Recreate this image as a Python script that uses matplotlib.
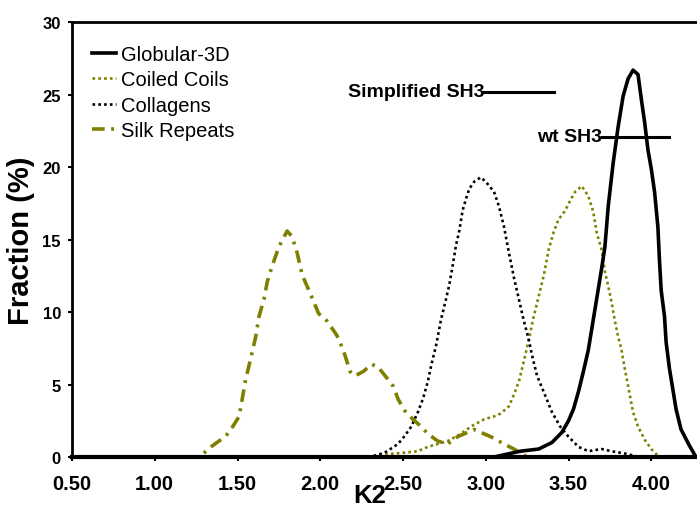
import matplotlib
matplotlib.use('Agg')
import matplotlib.pyplot as plt
from matplotlib.ticker import FormatStrFormatter

plt.rcParams['font.family'] = ['Liberation Sans', 'DejaVu Sans']

OLIVE = '#808000'

# K2 distributions
globular_x = [0.5, 3.05, 3.21, 3.32, 3.40, 3.46, 3.50, 3.53, 3.56, 3.59, 3.62, 3.64, 3.66, 3.68,
              3.70, 3.72, 3.74, 3.77, 3.80, 3.83, 3.86, 3.89, 3.92, 3.94, 3.96, 3.98, 4.00,
              4.02, 4.04, 4.05, 4.06, 4.08, 4.09, 4.11, 4.13, 4.15, 4.18, 4.23, 4.27, 4.5]
globular_y = [0, 0, 0.4, 0.55, 1.0, 1.7, 2.5, 3.3, 4.5, 5.9, 7.4, 8.8, 10.2, 11.6,
              13.0, 14.5, 17.3, 20.3, 22.8, 24.9, 26.1, 26.7, 26.4, 24.7, 23.1, 21.2, 19.9,
              18.3, 15.9, 13.5, 11.5, 9.7, 7.9, 6.1, 4.7, 3.3, 1.9, 0.8, 0, 0]

coiled_x = [0.5, 2.33, 2.41, 2.51, 2.59, 2.65, 2.71, 2.77, 2.85, 2.91, 2.99, 3.05, 3.09, 3.14,
            3.17, 3.20, 3.23, 3.26, 3.29, 3.32, 3.35, 3.38, 3.41, 3.44, 3.48, 3.51, 3.54,
            3.58, 3.62, 3.65, 3.67, 3.70, 3.72, 3.74, 3.76, 3.78, 3.80, 3.82, 3.84, 3.87,
            3.89, 3.92, 3.96, 4.00, 4.03, 4.06, 4.5]
coiled_y = [0, 0, 0.2, 0.3, 0.4, 0.7, 0.9, 1.1, 1.6, 2.1, 2.6, 2.8, 3.0, 3.5,
            4.3, 5.2, 6.6, 8.1, 9.7, 11.1, 12.5, 14.3, 15.5, 16.4, 17.0, 17.7, 18.3,
            18.7, 18.0, 16.9, 15.5, 14.3, 12.8, 11.8, 10.7, 9.4, 8.3, 7.4, 6.1, 4.3,
            3.1, 2.1, 1.2, 0.55, 0.2, 0, 0]

collagen_x = [0.5, 2.30, 2.39, 2.47, 2.51, 2.55, 2.59, 2.62, 2.65, 2.67, 2.70, 2.73, 2.76,
              2.78, 2.80, 2.82, 2.84, 2.86, 2.88, 2.90, 2.93, 2.97, 3.00, 3.05, 3.08, 3.11,
              3.14, 3.17, 3.20, 3.23, 3.26, 3.28, 3.31, 3.35, 3.40, 3.45, 3.50, 3.56, 3.62,
              3.70, 3.76, 3.86, 3.92, 4.5]
collagen_y = [0, 0, 0.3, 0.9, 1.45, 2.1, 3.1, 4.0, 5.2, 6.3, 7.7, 9.5, 10.9,
              11.9, 13.2, 14.6, 15.6, 17.0, 17.8, 18.5, 19.0, 19.3, 19.0, 18.3, 17.3, 15.9,
              14.1, 12.4, 10.9, 9.4, 8.1, 7.0, 5.6, 4.5, 3.1, 2.1, 1.4, 0.7, 0.4,
              0.55, 0.4, 0.2, 0, 0]

silk_x = [0.5, 1.27, 1.34, 1.43, 1.46, 1.51, 1.55, 1.58, 1.61, 1.63, 1.66, 1.68, 1.71, 1.75,
          1.80, 1.83, 1.86, 1.89, 1.92, 1.95, 1.99, 2.04, 2.10, 2.12, 2.15, 2.18, 2.21, 2.26,
          2.31, 2.35, 2.42, 2.44, 2.47, 2.51, 2.56, 2.61, 2.65, 2.71, 2.77, 2.83, 2.89, 2.93,
          2.97, 3.03, 3.11, 3.17, 3.25, 4.5]
silk_y = [0, 0, 0.7, 1.45, 1.9, 2.8, 5.4, 6.8, 8.3, 9.7, 10.9, 12.1, 13.2, 14.5,
          15.6, 15.2, 14.1, 12.6, 11.8, 11.0, 9.9, 9.4, 8.4, 7.9, 7.0, 5.9, 5.6, 5.9,
          6.4, 6.2, 5.2, 4.9, 4.0, 3.2, 2.6, 2.1, 1.6, 1.1, 0.9, 1.4, 1.7, 1.9,
          1.7, 1.4, 0.9, 0.55, 0, 0]

# reference bars (K2 range) for the two SH3 variants
simplified_sh3 = (2.99, 3.41, 25.2)
wt_sh3 = (3.70, 4.11, 22.1)

x_ticks = [0.5, 1.0, 1.5, 2.0, 2.5, 3.0, 3.5, 4.0]
y_ticks = [0, 5, 10, 15, 20, 25, 30]

fig = plt.figure(figsize=(6.97, 5.10), dpi=100)
ax = fig.add_axes([72 / 697, 52 / 510, 662 / 697, 434.7 / 510])

ax.plot(globular_x, globular_y, color='black', lw=2.6, label='Globular-3D', zorder=5)
ax.plot(coiled_x, coiled_y, color=OLIVE, lw=1.9, linestyle=(0, (1, 1.2)), label='Coiled Coils')
ax.plot(collagen_x, collagen_y, color='black', lw=1.9, linestyle=(0, (1, 1.2)), label='Collagens')
ax.plot(silk_x, silk_y, color=OLIVE, lw=2.6, linestyle=(0, (3.5, 1.8, 0.8, 1.8)), label='Silk Repeats')

ax.plot(simplified_sh3[:2], [simplified_sh3[2]] * 2, color='black', lw=2.2)
ax.text(simplified_sh3[0], simplified_sh3[2], 'Simplified SH3', ha='right', va='center',
        fontsize=14, fontweight='bold')
ax.plot(wt_sh3[:2], [wt_sh3[2]] * 2, color='black', lw=2.2)
ax.text(wt_sh3[0], wt_sh3[2], 'wt SH3', ha='right', va='center',
        fontsize=14, fontweight='bold')

ax.set_xlim(0.5, 4.5)
ax.set_ylim(0, 30)
ax.set_xticks(x_ticks)
ax.set_yticks(y_ticks)
ax.xaxis.set_major_formatter(FormatStrFormatter('%.2f'))
ax.tick_params(axis='x', labelsize=14.5, pad=9, length=3, width=1.5)
ax.tick_params(axis='y', labelsize=12, pad=5, length=3, width=1.5)
for lab in ax.get_xticklabels() + ax.get_yticklabels():
    lab.set_fontweight('bold')

for side in ['left', 'top', 'right']:
    ax.spines[side].set_linewidth(2)
ax.spines['bottom'].set_linewidth(3)

ax.set_ylabel('Fraction (%)', fontsize=21, fontweight='bold')
ax.yaxis.set_label_coords(-0.056, 0.5)
ax.set_xlabel('K2', fontsize=18.5, fontweight='bold')
ax.xaxis.set_label_coords((370 - 72) / 662, -0.06)

ax.legend(loc='upper left', bbox_to_anchor=(0.03, 0.948), frameon=False, fontsize=14.5,
          handlelength=1.2, handletextpad=0.25, labelspacing=0.32, borderpad=0, borderaxespad=0)

fig.savefig('out.png', dpi=100)
